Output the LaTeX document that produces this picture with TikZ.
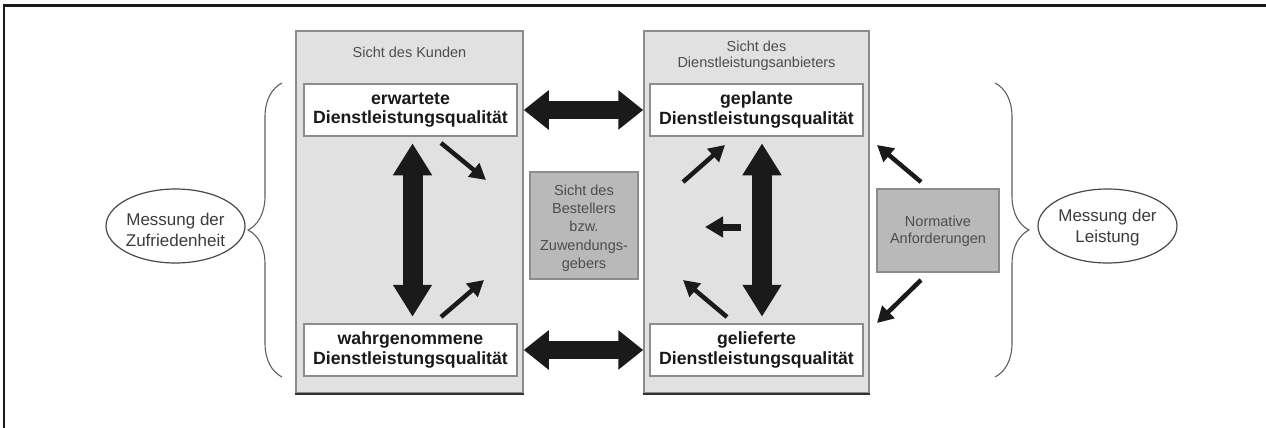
\documentclass[tikz,border=0pt]{standalone}
\usepackage{fontspec}
\setmainfont{Liberation Sans}
\usetikzlibrary{arrows.meta,shapes.geometric,decorations.pathreplacing,calc}

\definecolor{panelfill}{HTML}{E1E1E1}
\definecolor{panelline}{HTML}{8C8C8C}
\definecolor{greybox}{HTML}{B9B9B9}
\definecolor{labelgrey}{HTML}{4D4D4D}
\definecolor{ink}{HTML}{1A1A1A}

\begin{document}
\begin{tikzpicture}[x=1pt,y=-1pt,
  panel/.style={draw=panelline, fill=panelfill, line width=1.5pt, inner sep=0pt},
  qualbox/.style={draw=panelline, fill=white, line width=1.5pt, inner sep=0pt,
    minimum width=213pt, minimum height=52pt, align=center, text=ink,
    font=\fontsize{17.7}{19.5}\selectfont\bfseries},
  shadedbox/.style={draw=panelline, fill=greybox, line width=1.2pt, inner sep=0pt},
  greylabel/.style={align=center, text=labelgrey, inner sep=0pt,
    font=\fontsize{14.5}{16.5}\selectfont},
  measure/.style={ellipse, draw=ink!80, line width=1.2pt, fill=white,
    minimum width=139pt, minimum height=74pt, inner sep=0pt},
  measuretext/.style={align=center, text=ink!85, inner sep=0pt,
    font=\fontsize{17}{21}\selectfont},
  bracket/.style={draw=ink!70, line width=1.1pt, decorate,
    decoration={brace, amplitude=34pt}},
  hdouble/.style={draw=ink, line width=18pt,
    {Triangle[length=25pt,width=38pt]}-{Triangle[length=25pt,width=38pt]}},
  vdouble/.style={draw=ink, line width=20pt,
    {Triangle[length=32pt,width=37pt]}-{Triangle[length=32pt,width=37pt]}},
  thinarrow/.style={draw=ink, line width=4.5pt, -{Triangle[length=16pt,width=17pt]}},
  stubarrow/.style={draw=ink, line width=7pt, -{Triangle[length=18pt,width=20pt]}},
  baseline/.style={draw=ink!90, line width=2pt}
]
\useasboundingbox (0,0) rectangle (1266,428);

% outer frame (top and left rule)
\draw[ink, line width=2.7pt, line join=miter] (4,430) -- (4,5.7) -- (1270,5.7);

% the two perspective panels
\node[panel, minimum width=227pt, minimum height=362pt] (kunde) at (409.5,212) {};
\node[panel, minimum width=225pt, minimum height=362pt] (anbieter) at (756.5,212) {};
\draw[baseline] (kunde.south west) -- (kunde.south east);
\draw[baseline] (anbieter.south west) -- (anbieter.south east);

\node[greylabel, anchor=base] (tkunde) at (409.5,58) {Sicht des Kunden};
\node[greylabel] (tanbieter) at (756.5,56) {Sicht des\\Dienstleistungsanbieters};

% quality boxes
\node[qualbox] (erw) at (410.5,110) {erwartete\\Dienstleistungsqualität};
\node[qualbox] (wahr) at (410.5,350) {wahrgenommene\\Dienstleistungsqualität};
\node[qualbox] (gepl) at (756.5,110) {geplante\\Dienstleistungsqualität};
\node[qualbox] (gel) at (756.5,350) {gelieferte\\Dienstleistungsqualität};

% grey side boxes
\node[shadedbox, minimum width=108pt, minimum height=107pt] (best) at (584,225.5) {};
\node[greylabel, font=\fontsize{14.5}{18.3}\selectfont] (tbest) at (584,228)
  {Sicht des\\Bestellers\\bzw.\\Zuwendungs-\\gebers};
\node[shadedbox, minimum width=122pt, minimum height=83pt] (norm) at (938,230.5) {};
\node[greylabel, font=\fontsize{14.5}{17.5}\selectfont] (tnorm) at (938,231)
  {Normative\\Anforderungen};

% measurement ellipses
\node[measure] (zuf) at (175.5,226) {};
\node[measuretext] (tzuf) at (175.5,229.5) {Messung der\\Zufriedenheit};
\node[measure] (leist) at (1107.5,226) {};
\node[measuretext] (tleist) at (1107.5,228) {Messung der\\Leistung};

% braces
\coordinate (lbtop) at (282,83);
\coordinate (lbbot) at (282,377);
\coordinate (rbtop) at (995,83);
\coordinate (rbbot) at (995,377);
\draw[bracket] (lbbot) -- (lbtop);
\draw[bracket] (rbtop) -- (rbbot);

% large double arrows
\draw[hdouble] (kunde.east |- erw) -- (anbieter.west |- gepl);
\draw[hdouble] (kunde.east |- wahr) -- (anbieter.west |- gel);
\draw[vdouble] ($(erw.south)+(2,6.5)$) -- ($(wahr.north)+(2,-6.5)$);
\draw[vdouble] ($(gepl.south)+(5.5,6.5)$) -- ($(gel.north)+(5.5,-6.5)$);

% small influence arrows
\coordinate (a1s) at (441,143);  \coordinate (a1e) at (486,180);
\coordinate (a2s) at (441,317);  \coordinate (a2e) at (484,280);
\coordinate (a3s) at (683,182);  \coordinate (a3e) at (725,145);
\coordinate (a4s) at (921,182);  \coordinate (a4e) at (877,145);
\coordinate (a5s) at (741,227);  \coordinate (a5e) at (705,227);
\coordinate (a6s) at (727,317);  \coordinate (a6e) at (683,280);
\coordinate (a7s) at (921,280);  \coordinate (a7e) at (877,323);
\draw[thinarrow] (a1s) -- (a1e);
\draw[thinarrow] (a2s) -- (a2e);
\draw[thinarrow] (a3s) -- (a3e);
\draw[thinarrow] (a4s) -- (a4e);
\draw[stubarrow] (a5s) -- (a5e);
\draw[thinarrow] (a6s) -- (a6e);
\draw[thinarrow] (a7s) -- (a7e);
\end{tikzpicture}
\end{document}
